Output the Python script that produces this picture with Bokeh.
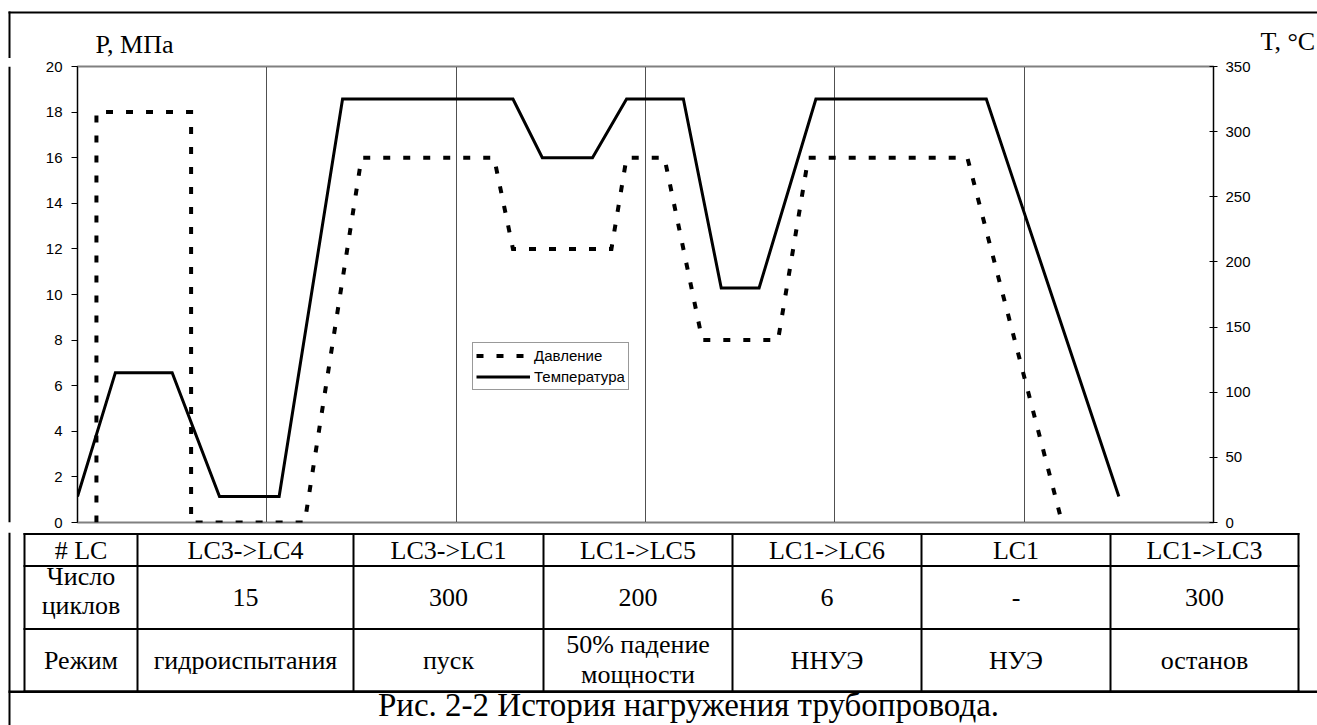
from bokeh.plotting import figure
from bokeh.layouts import column, row
from bokeh.models import (Range1d, LinearAxis, FixedTicker, Grid, Legend, LegendItem)
from bokeh.core.properties import value
from bokeh.embed import file_html
from bokeh.resources import INLINE

# ---------------- data ----------------
pressure_x = [0.1, 0.1, 0.6, 0.6, 1.2, 1.5, 2.2, 2.3, 2.82, 2.9, 3.1, 3.3, 3.7, 3.86, 4.7, 5.2]
pressure_y = [0, 18, 18, 0, 0, 16, 16, 12, 12, 16, 16, 8, 8, 16, 16, 0]
temperature_x = [0, 0.2, 0.5, 0.75, 1.065, 1.4, 2.3, 2.455, 2.72, 2.9, 3.2, 3.4, 3.6, 3.9, 4.8, 5.5]
temperature_y = [20, 115, 115, 20, 20, 325, 325, 280, 280, 325, 325, 180, 180, 325, 325, 20]
p_ticks = [0, 2, 4, 6, 8, 10, 12, 14, 16, 18, 20]
t_ticks = [0, 50, 100, 150, 200, 250, 300, 350]
stage_bounds = [1, 2, 3, 4, 5]

row_lc = ["# LC", "LC3->LC4", "LC3->LC1", "LC1->LC5", "LC1->LC6", "LC1", "LC1->LC3"]
row_cycles = [["Число", "циклов"], ["15"], ["300"], ["200"], ["6"], ["-"], ["300"]]
row_mode = [["Режим"], ["гидроиспытания"], ["пуск"], ["50% падение", "мощности"],
            ["ННУЭ"], ["НУЭ"], ["останов"]]
caption = "Рис. 2-2 История нагружения трубопровода."
p_title = "P, МПа"
t_title = "T, °C"
legend_labels = ["Давление", "Температура"]

# ---------------- page geometry (pixels) ----------------
WIDTH, HEIGHT = 1317, 725
TOP_H = 58          # strip with frame line and axis titles
CHART_BOTTOM = 532  # where the table strip begins
LEFT_W = 20         # strip with the document's left frame line
X_END, P_END, T_END = 6, 20, 350
FRAME_L, FRAME_R, FRAME_T, FRAME_B = 77, 1213, 66, 522
SERIF = "Liberation Serif"
SANS = "Liberation Sans"
BASE_FIX = 0.345    # baseline correction (fraction of font size)


def strip(w, y0, y1, x0=0):
    f = figure(width=w, height=y1 - y0, output_backend="svg", toolbar_location=None,
               tools="", title=None, x_range=Range1d(x0, x0 + w), y_range=Range1d(y1, y0),
               x_axis_location=None, y_axis_location=None, min_border=0)
    f.outline_line_color = None
    f.background_fill_color = "white"
    f.border_fill_color = "white"
    f.grid.visible = False
    return f


def bar(f, x0, x1, y0, y1):
    f.quad(left=[x0], right=[x1], top=[y0], bottom=[y1], fill_color="black",
           line_color=None)


def words(f, xs, ys, texts, size, font=SERIF, align="center"):
    shift = BASE_FIX * size
    f.text(x=xs, y=[y - shift for y in ys], text=texts, text_font=value(font),
           text_font_size=value(f"{size}px"), text_align=align,
           text_baseline="alphabetic", text_color="black")


# ---------- top strip ----------
pa = strip(WIDTH, 0, TOP_H)
bar(pa, 8, WIDTH, 11, 13)
bar(pa, 8, 10, 11, TOP_H)
words(pa, [95], [53], [p_title], 26, align="left")
words(pa, [1260], [49.5], [t_title], 26, align="left")

# ---------- left strip ----------
pl = strip(LEFT_W, TOP_H, CHART_BOTTOM)
bar(pl, 8, 10, TOP_H, CHART_BOTTOM)

# ---------- chart ----------
cw = WIDTH - LEFT_W
p = figure(width=cw, height=CHART_BOTTOM - TOP_H, output_backend="svg",
           toolbar_location=None, tools="", title=None,
           x_range=Range1d(0, X_END), y_range=Range1d(0, P_END),
           x_axis_location=None, y_axis_location="left",
           min_border_left=FRAME_L - LEFT_W, min_border_right=WIDTH - FRAME_R,
           min_border_top=FRAME_T - TOP_H, min_border_bottom=CHART_BOTTOM - FRAME_B)
p.extra_y_ranges = {"T": Range1d(0, T_END)}
p.background_fill_color = "white"
p.border_fill_color = "white"
p.outline_line_color = "#808080"
p.outline_line_width = 2
p.ygrid.grid_line_color = None

ya = p.yaxis[0]
ya.ticker = FixedTicker(ticks=p_ticks)
ya.major_tick_out = 6
ya.major_tick_in = 0
ya.minor_tick_out = 0
ya.minor_tick_in = 0
ya.major_label_standoff = 9
ya.major_label_text_font = SANS
ya.major_label_text_font_size = "15px"
ya.major_label_text_color = "black"
ya.axis_line_color = "black"
ya.major_tick_line_color = "black"

ra = LinearAxis(y_range_name="T", ticker=FixedTicker(ticks=t_ticks))
ra.major_tick_out = 4
ra.major_tick_in = 4
ra.minor_tick_out = 0
ra.minor_tick_in = 0
ra.major_label_standoff = 8
ra.major_label_text_font = SANS
ra.major_label_text_font_size = "15px"
ra.major_label_text_color = "black"
ra.axis_line_color = "black"
ra.major_tick_line_color = "black"
p.add_layout(ra, "right")

g = Grid(dimension=0, ticker=FixedTicker(ticks=stage_bounds),
         grid_line_color="#505050", grid_line_width=1)
p.add_layout(g)

r_p = p.line(pressure_x, pressure_y, line_color="black", line_width=4,
             line_dash="7 13", line_join="miter")
r_t = p.line(temperature_x, temperature_y, y_range_name="T", line_color="black",
             line_width=3, line_join="miter")

leg = Legend(items=[LegendItem(label=legend_labels[0], renderers=[r_p]),
                    LegendItem(label=legend_labels[1], renderers=[r_t])],
             location=(472 - FRAME_L, FRAME_B - 390), margin=0, padding=3, spacing=2,
             glyph_width=54, glyph_height=19, label_height=19, label_standoff=4,
             label_text_font=SANS, label_text_font_size="15px", label_text_color="black",
             border_line_color="#333333", border_line_width=1,
             background_fill_color="white", background_fill_alpha=1)
p.add_layout(leg)

# ---------- table strip ----------
pb = strip(WIDTH, CHART_BOTTOM, HEIGHT)
bar(pb, 8, 10, CHART_BOTTOM, HEIGHT)
bar(pb, 8, WIDTH, 690, 692.5)

cols = [24, 137, 353, 543, 732, 921, 1110, 1298]
rows = [533.5, 565.5, 628.5, 691]
for c in cols:
    bar(pb, c - 1, c + 1, rows[0] - 1, rows[-1] + 1)
for r in rows:
    bar(pb, cols[0] - 1, cols[-1] + 1, r - 1, r + 1)

centers = [(cols[i] + cols[i + 1]) / 2 for i in range(len(cols) - 1)]
xs, ys, ts = [], [], []
for i, s in enumerate(row_lc):
    xs.append(centers[i]); ys.append(559); ts.append(s)
for i, lines in enumerate(row_cycles):
    if len(lines) == 1:
        xs.append(centers[i]); ys.append(606); ts.append(lines[0])
    else:
        xs += [centers[i], centers[i]]; ys += [585, 614]; ts += lines
for i, lines in enumerate(row_mode):
    if len(lines) == 1:
        xs.append(centers[i]); ys.append(669); ts.append(lines[0])
    else:
        xs += [centers[i], centers[i]]; ys += [653, 683]; ts += lines
words(pb, xs, ys, ts, 26)
words(pb, [688], [716], [caption], 33)

layout = column(pa, row(pl, p), pb)
open("out.html", "w").write(file_html(layout, INLINE))
